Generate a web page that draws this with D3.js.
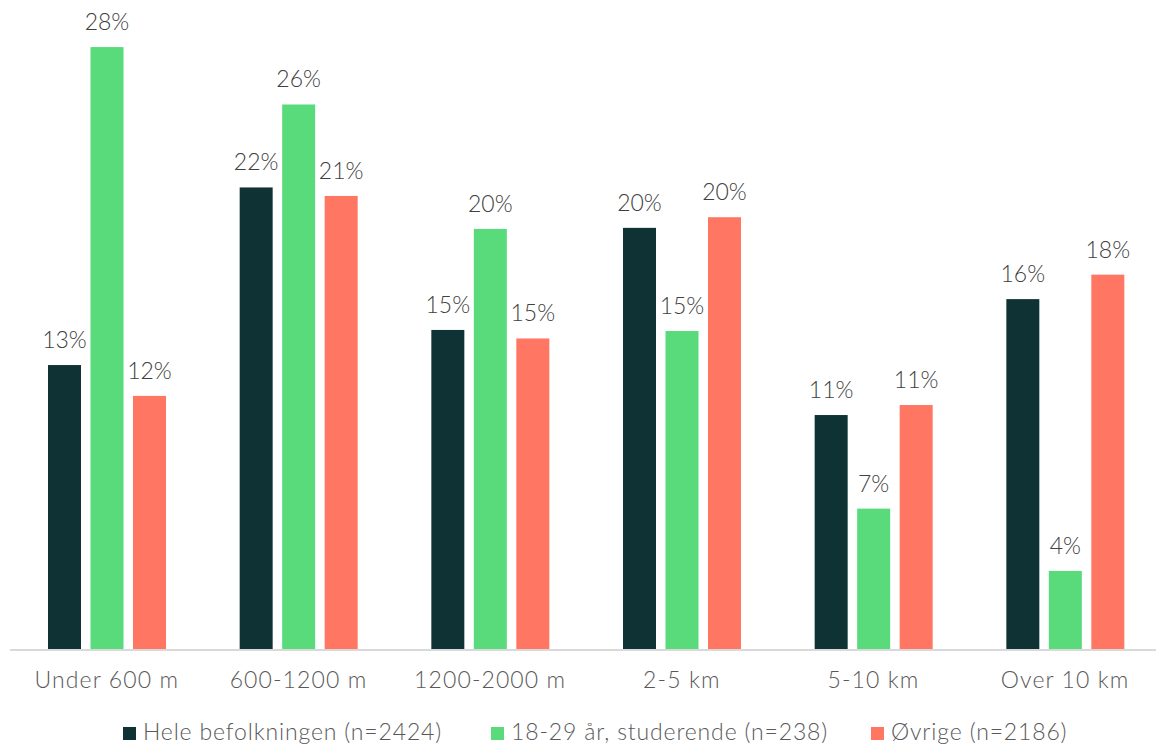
<!DOCTYPE html>
<html>
<head>
<meta charset="utf-8">
<script src="https://cdn.jsdelivr.net/npm/d3@7"></script>
<style>
  html, body { margin: 0; padding: 0; background: #ffffff; }
  svg { display: block; }
  text { font-family: "Lato", "Open Sans", sans-serif; font-weight: 300; }
  .axis-label { letter-spacing: 1.1px; }
  .legend-label { letter-spacing: 0.85px; }
</style>
</head>
<body>
<svg id="chart" width="1156" height="747"></svg>
<script>
// Distance categories along the x axis
const categories = ["Under 600 m", "600-1200 m", "1200-2000 m", "2-5 km", "5-10 km", "Over 10 km"];

// Series names as shown in the legend
const seriesNames = ["Hele befolkningen (n=2424)", "18-29 år, studerende (n=238)", "Øvrige (n=2186)"];

// Share of respondents (%) per category, one array per series
const helePct     = [13.35, 21.7, 15.0, 19.8, 11.0, 16.45];
const studentPct  = [28.3, 25.6, 19.75, 14.95, 6.6, 3.67];
const ovrigePct   = [11.9, 21.3, 14.6, 20.3, 11.47, 17.6];

const seriesValues = [helePct, studentPct, ovrigePct];
const colors = ["#0f3335", "#59db7c", "#ff7662"];

const svg = d3.select("#chart");
const W = 1156, H = 747;
const baseY = 649;

const x0 = d3.scaleBand().domain(categories).range([11, 1161]).padding(0);
const x1 = d3.scaleBand().domain(d3.range(seriesNames.length))
  .range([37, 155]).paddingInner(0.2235).paddingOuter(0);
const y = d3.scaleLinear().domain([0, 30]).range([baseY, baseY - 30 * 21.27]);

// Bars and value labels
const groups = svg.append("g").selectAll("g")
  .data(categories)
  .join("g")
  .attr("transform", d => `translate(${x0(d)},0)`);

groups.selectAll("rect")
  .data((d, i) => seriesValues.map((vals, s) => ({ s, v: vals[i] })))
  .join("rect")
  .attr("x", d => x1(d.s))
  .attr("width", x1.bandwidth())
  .attr("y", d => y(d.v))
  .attr("height", d => y(0) - y(d.v))
  .attr("fill", d => colors[d.s]);

groups.selectAll("text.val")
  .data((d, i) => seriesValues.map((vals, s) => ({ s, v: vals[i] })))
  .join("text")
  .attr("class", "val")
  .attr("x", d => x1(d.s) + x1.bandwidth() / 2)
  .attr("y", d => y(d.v) - 17)
  .attr("text-anchor", "middle")
  .attr("font-size", 23)
  .attr("fill", "#404040")
  .text(d => Math.round(d.v) + "%");

// Baseline axis
const xAxis = d3.axisBottom(x0).tickSize(0).tickPadding(0);
const axisG = svg.append("g").attr("transform", `translate(0,${baseY})`).call(xAxis);
axisG.select(".domain").remove();
axisG.selectAll("text")
  .attr("class", "axis-label")
  .attr("y", 39)
  .attr("dy", 0)
  .attr("font-size", 23)
  .attr("fill", "#595959");
svg.append("line")
  .attr("x1", 10).attr("x2", W)
  .attr("y1", baseY + 1).attr("y2", baseY + 1)
  .attr("stroke", "#d9d9d9").attr("stroke-width", 2);

// Legend
const legendX = [123, 491, 871];
const legend = svg.append("g").selectAll("g")
  .data(seriesNames)
  .join("g")
  .attr("transform", (d, i) => `translate(${legendX[i]},0)`);
legend.append("rect")
  .attr("x", 0).attr("y", 727).attr("width", 13).attr("height", 13)
  .attr("fill", (d, i) => colors[i]);
legend.append("text")
  .attr("class", "legend-label")
  .attr("x", 20).attr("y", 740)
  .attr("font-size", 23)
  .attr("fill", "#595959")
  .text(d => d);
</script>
</body>
</html>
